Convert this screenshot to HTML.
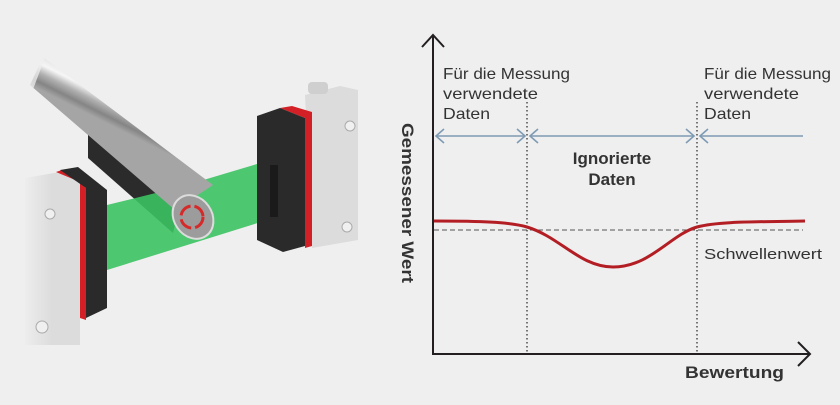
<!DOCTYPE html>
<html><head><meta charset="utf-8"><style>
html,body{margin:0;padding:0;background:#efefef;}
body{width:840px;height:400px;overflow:hidden;}
svg text{font-family:"Liberation Sans","DejaVu Sans",sans-serif;fill:#333;}
</style></head><body>
<svg width="840" height="400" viewBox="0 0 840 400" xmlns="http://www.w3.org/2000/svg">
<defs>
<linearGradient id="rod" gradientUnits="userSpaceOnUse" x1="45" y1="55" x2="30" y2="85">
<stop offset="0" stop-color="#e0e0e0"/><stop offset="0.3" stop-color="#f6f6f6"/><stop offset="0.55" stop-color="#b0b0b0"/><stop offset="0.8" stop-color="#858585"/><stop offset="1" stop-color="#a5a5a5"/>
</linearGradient>
<linearGradient id="fadeL" x1="0" x2="1"><stop offset="0" stop-color="#efefef"/><stop offset="1" stop-color="#efefef" stop-opacity="0"/></linearGradient>
</defs>
<!-- left sensor housing -->
<polygon points="25,178 60,172 80,182 80,345 25,345" fill="#dcdcdc"/>
<rect x="22" y="170" width="30" height="180" fill="url(#fadeL)"/>
<polygon points="56,172 62,170 86,188 86,320 80,318 80,182" fill="#d32026"/>
<polygon points="60,170 78,167 107,190 107,308 86,318 86,188" fill="#2a2a2a"/>
<circle cx="50" cy="214" r="5" fill="#f0f0f0" stroke="#aaa"/>
<circle cx="42" cy="327" r="6" fill="#f0f0f0" stroke="#aaa"/>
<!-- rod shadow band -->
<polygon points="88,134 180,205 173,233 88,158" fill="#2b2b2b"/>
<!-- green beam -->
<polygon points="107,205 180,187 277,158 277,217 107,270" fill="#3cc263" opacity="0.9"/>
<!-- rod -->
<polygon points="43,57 213,185 175,210 30,85" fill="url(#rod)"/>
<polygon points="26,50 46,55 32,92 20,85" fill="#efefef" opacity="0.75"/>
<ellipse cx="193" cy="217" rx="19" ry="23" transform="rotate(-35 193 217)" fill="#9c9c9c" stroke="#dcdcdc" stroke-width="2"/>
<circle cx="192" cy="217" r="11" fill="none" stroke="#d62a2a" stroke-width="3" stroke-dasharray="14 4"/>
<!-- right sensor -->
<polygon points="305,95 340,86 358,90 358,240 312,248" fill="#dcdcdc"/>
<rect x="308" y="82" width="20" height="12" rx="4" fill="#cfcfcf"/>
<polygon points="280,108 292,106 312,112 312,246 305,248 305,118" fill="#d32026"/>
<polygon points="257,116 280,108 305,118 305,246 283,252 257,240" fill="#2a2a2a"/>
<rect x="270" y="165" width="8" height="52" fill="#1a1a1a"/>
<circle cx="350" cy="126" r="5" fill="#f0f0f0" stroke="#aaa"/>
<circle cx="347" cy="227" r="5" fill="#f0f0f0" stroke="#aaa"/>

<!-- chart -->
<g stroke="#231f20" stroke-width="2" fill="none">
<line x1="433" y1="36" x2="433" y2="355"/>
<line x1="432" y1="354" x2="810" y2="354"/>
<polyline points="422,47 433,35 444,47"/>
<polyline points="798,342 810,354 798,366"/>
</g>
<g stroke="#333" stroke-width="1.3" stroke-dasharray="1.5 2.5">
<line x1="527" y1="102" x2="527" y2="354"/>
<line x1="697" y1="102" x2="697" y2="354"/>
</g>
<g stroke="#7f9bb4" stroke-width="1.6" fill="none">
<line x1="436" y1="136" x2="525" y2="136"/>
<polyline points="444,129 436,136 444,143"/><polyline points="517,129 525,136 517,143"/>
<line x1="530" y1="136" x2="694" y2="136"/>
<polyline points="538,129 530,136 538,143"/><polyline points="686,129 694,136 686,143"/>
<line x1="700" y1="136" x2="803" y2="136"/>
<polyline points="708,129 700,136 708,143"/>
</g>
<line x1="434" y1="230" x2="803" y2="230" stroke="#555" stroke-width="1" stroke-dasharray="5 3"/>
<path d="M434,221 C480,221 510,222 527,227 C560,237 580,267 613,267 C650,267 670,235 697,227 C720,221 760,222 805,221" stroke="#b31e24" stroke-width="3" fill="none"/>

<g font-size="16">
<text x="443" y="79" textLength="127" lengthAdjust="spacingAndGlyphs">Für die Messung</text>
<text x="443" y="99" textLength="95" lengthAdjust="spacingAndGlyphs">verwendete</text>
<text x="443" y="119" textLength="47" lengthAdjust="spacingAndGlyphs">Daten</text>
<text x="704" y="79" textLength="127" lengthAdjust="spacingAndGlyphs">Für die Messung</text>
<text x="704" y="99" textLength="95" lengthAdjust="spacingAndGlyphs">verwendete</text>
<text x="704" y="119" textLength="47" lengthAdjust="spacingAndGlyphs">Daten</text>
<text x="704" y="259" font-size="15" textLength="118" lengthAdjust="spacingAndGlyphs">Schwellenwert</text>
</g>
<g font-size="17" text-anchor="middle">
<text x="612" y="164" style="font-weight:600">Ignorierte</text>
<text x="612" y="185" style="font-weight:600">Daten</text>
</g>
<text x="685" y="378" font-size="17" font-weight="bold" textLength="99" lengthAdjust="spacingAndGlyphs">Bewertung</text>
<text transform="translate(402,203) rotate(90)" text-anchor="middle" font-size="17" font-weight="bold" textLength="160" lengthAdjust="spacingAndGlyphs">Gemessener Wert</text>
</svg>
</body></html>
